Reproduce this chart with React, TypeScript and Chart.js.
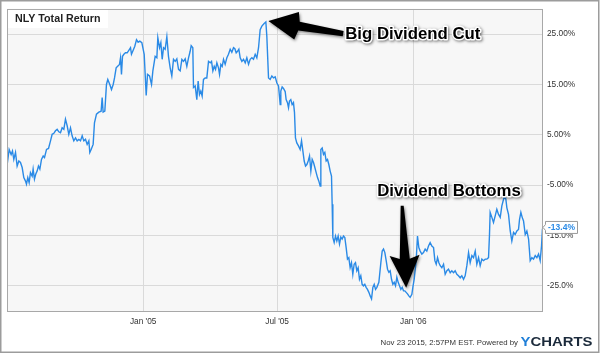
import { useEffect, useRef } from 'react';
import { Chart, registerables } from 'chart.js';

Chart.register(...registerables);

// Days since 1 Jan 2005 (x) and NLY total return in percent (y)
const DAY_OFFSETS: number[] = [
  -184, -181.1, -178.4, -176.6, -174.8, -172.5, -170.3, -168, -165.8, -163.5, -161.3, -159, -157.7, -155.9, -154.1,
  -152.3, -150, -148.7, -146.9, -145.1, -143.3, -141.5, -139.6, -137.4, -135.1, -133.3, -130.6, -127.9, -125.2, -123,
  -120.7, -118.5, -116.2, -114, -111.7, -109.5, -107.2, -105, -102.7, -100.5, -98.2, -96, -93.7, -91.4, -89.2, -86.9,
  -84.7, -82.4, -80.2, -77.9, -75.7, -73.4, -72.1, -70.3, -67.6, -65.8, -63.1, -59.9, -56.8, -55.4, -54.1, -51.8,
  -49.6, -47.8, -45.1, -42.8, -40.5, -38.7, -36.5, -33.8, -32, -30.6, -29.3, -27.9, -26.1, -23.9, -21.6, -19.4,
  -17.1, -15.8, -13.5, -11.3, -9, -6.8, -4.5,
  -1.8, 1.4, 4.1, 5.9, 8.6, 11.3, 13.1, 16.2, 18.5, 19.8, 22.1, 23.9, 25.7, 27.5, 29.7, 32, 34.2, 36.5, 38.7, 41,
  43.3, 45.5, 47.8, 50, 52.3, 54.5, 56.8, 59, 61.3, 63.5, 64.9, 67.1, 68, 70.3, 72.5, 74.3, 76.1, 77.9, 79.7, 81.5,
  83.8, 86, 88.3, 90.6, 92.4, 94.2, 96, 97.8, 99.6, 101.8, 103.2, 105, 106.8, 108.6, 110.8, 113.1, 115.3, 117.6,
  119.8, 122.1, 123.9, 125.7, 127.5, 129.3, 131.1, 133.4, 135.6, 137.9, 140.1, 142.4, 144.6, 146.9, 149.1, 151.4,
  153.6, 155.9, 158.1, 160.4, 163.5, 165.8, 167.1, 169.4, 171.6, 173.9, 176.2, 178.4, 180.7, 182.9, 185.2,
  186, 187.8, 189.6, 191.9, 193.2, 195, 196.4, 197.7, 199.5, 201.3, 203.1, 204.5, 205.8, 207.6, 209.9, 212.1, 214,
  215.8, 217.6, 219.4, 221.2, 223, 224.8, 226.6, 228.4, 230.2, 232, 233.8, 235.6, 237.4, 239.2, 240.1, 241.9, 243.7,
  245.5, 247.3, 249.1, 250.9, 252.7, 254.5, 255.4, 256.3, 258.1, 259.9, 261.7, 263.5, 265.3, 267.1, 268.9, 270.7,
  272.5, 274.3, 276.1, 277.9, 279.7, 281.5, 283.3, 285.1, 286.9, 288.7, 290.5, 292.3, 294.1, 295.9, 297.7, 299.5,
  301.3, 303.1, 305, 306.8, 308.6, 310.4, 312.2, 314, 315.8, 318.5, 321.2, 323, 324.8, 326.6, 328.4, 330.2, 332,
  333.8, 335.6, 337.4, 339.2, 341, 342.8, 344.6, 346.4, 348.2, 350, 351.8, 353.6, 355.4, 357.2, 359, 360.8,
  363.1, 364.4, 366.2, 368.9, 370.7, 372.5, 374.3, 376.6, 378.8, 381.1, 383.3, 385.6, 387.8, 390.1, 392.4, 394.2,
  396, 397.8, 399.6, 401.4, 403.6, 405.9, 408.1, 410.4, 412.6, 414.9, 417.1, 419.4, 421.6, 423.9, 426.1, 428.4,
  430.6, 432.9, 435.1, 437.4, 439.7, 441.9, 444.2, 446.4, 448.7, 450.9, 453.2, 455.4, 457.7, 459.9, 462.2, 464.4,
  466.7, 468, 468.9, 471.2, 473.4, 475.7, 477.9, 480.2, 482.5, 484.7, 487, 488.3, 490.1, 491.5, 493.7, 496, 498.2,
  500.5, 502.7, 505, 507.2, 508.6, 510.4, 512.2, 514, 516.3, 518.5, 520.8, 523, 525.3, 527.5, 529.8, 532, 534.3,
  536.5, 538.3, 539.5, 540.3,
];

const TOTAL_RETURN_PCT: number[] = [
  -1.2, 2.1, 1.1, 1.8, 0.1, 1.5, -1.2, -0.2, -0.5, -1.5, -3.5, -4.2, -4.8, -3.5, -4.5,
  -2.5, -3.2, -1.8, -3.8, -2.8, -2.2, -1.2, -1.8, 0.1, 0.8, 0.5, 2.1, 2.3, 3.8, 5.1,
  5.3, 5.8, 6.1, 5.6, 5.4, 6.4, 6.1, 8.1, 6.8, 5.1, 6.4, 4.8, 3.8, 4.4, 3.8, 4.1,
  3.8, 4.8, 3.8, 4.1, 3.1, 3.8, 1.5, 2.1, 3.1, 7.4, 9.1, 9.5, 9.7, 12.4, 9.5, 9.7,
  15.0, 16.0, 15.0, 14.0, 15.0, 16.3, 18.3, 18.7, 19.0, 20.3, 17.0, 20.6, 21.0, 21.3, 21.3, 21.8,
  22.3, 21.0, 21.8, 22.6, 23.9, 23.4, 23.6,
  23.3, 21.0, 12.8, 17.0, 16.7, 15.0, 17.7, 20.6, 20.3, 24.3, 22.3, 23.3, 20.0, 22.3, 22.0, 24.5, 20.6, 18.3, 16.7, 20.0,
  19.6, 20.1, 18.0, 17.7, 20.0, 19.6, 20.1, 18.6, 20.3, 21.6, 22.7, 22.3, 14.4, 14.7, 12.0, 15.7, 13.0, 13.7, 12.7, 16.0,
  16.3, 16.3, 19.6, 19.3, 19.6, 17.7, 18.6, 18.0, 19.3, 18.3, 17.0, 19.0, 18.6, 20.0, 19.0, 20.3, 21.0, 22.0,
  21.4, 22.3, 22.1, 21.3, 21.6, 22.0, 20.3, 19.6, 20.0, 19.3, 20.3, 19.0, 20.0, 20.3, 20.0, 21.0,
  20.3, 22.3, 25.9, 26.6, 27.1, 27.4, 24.6, 16.3, 16.0, 16.7, 16.3, 16.5, 15.3, 14.7, 11.0,
  13.7, 14.5, 14.2, 13.6, 12.0, 11.4, 10.4, 11.7, 12.0, 11.0, 11.4, 9.4, 4.4, 3.4, 2.8, 2.1, 3.8,
  1.8, -0.2, -1.2, -0.9, -0.2, 0.8, -2.2, 0.1, -0.5, -1.5, -2.5, -3.5, -4.2, -5.2, 2.1, 2.4, 1.1,
  1.5, -0.2, 0.1, -0.9, -2.2, -3.2, -8.8, -15.4, -16.4, -15.1, -16.1, -15.1, -16.7, -15.3, -15.7, -15.1,
  -15.4, -17.4, -19.7, -19.4, -21.4, -20.4, -22.7, -20.7, -20.4, -22.0, -21.4, -23.7, -23.0, -24.7, -25.0, -24.7,
  -25.3, -25.7, -26.3, -27.0, -27.6, -25.3, -24.7, -25.7, -25.3, -24.3, -20.4, -18.1, -17.7, -18.4, -20.0, -21.7, -22.3,
  -22.0, -23.7, -24.7, -24.3, -25.0, -23.3, -24.3, -25.0, -25.7, -25.3, -26.0, -26.0, -26.3, -26.6, -27.0, -27.3,
  -26.7, -25.3, -23.7, -20.0, -15.1, -17.4, -18.1, -18.7, -18.4, -17.7, -18.1, -17.1, -16.4, -17.1, -17.4, -20.0,
  -20.7, -19.4, -20.4, -21.0, -21.4, -20.7, -22.7, -22.0, -21.7, -22.4, -22.0, -22.4, -22.0, -22.7, -23.0, -23.4,
  -23.0, -23.7, -23.0, -21.0, -18.4, -20.4, -19.0, -19.4, -18.1, -20.7, -19.4, -21.0, -19.7, -20.0, -19.7, -19.7,
  -19.4, -14.8, -10.4, -11.4, -12.4, -11.1, -9.8, -10.8, -11.4, -9.1, -7.8, -7.1, -7.8, -9.5, -10.8, -14.1, -16.1,
  -14.4, -14.8, -14.1, -13.8, -11.8, -10.4, -11.4, -12.1, -14.8, -14.1, -15.7, -20.0, -19.4, -19.7, -19.0, -19.4, -18.7,
  -20.0, -17.1, -13.8, -13.4,
];

const X_MIN = -184;
const X_MAX = 540.3;
const X_TICK_DAYS = [0, 181, 365];
const X_TICK_LABELS = ["Jan '05", "Jul '05", "Jan '06"];

const Y_MIN = -30;
const Y_MAX = 30;
const Y_TICKS = [25, 15, 5, -5, -15, -25];
const Y_TICK_LABELS = ['25.00%', '15.00%', '5.00%', '-5.00%', '-15.0%', '-25.0%'];

const TITLE = 'NLY Total Return';
const FOOTER = 'Nov 23 2015, 2:57PM EST. Powered by';

// annotation anchors in data units (day, percent)
const ANNOTATIONS = [
  { text: 'Big Dividend Cut', textAt: [273, 25.0], tip: [169.3, 27.6], tail: [270.3, 25.1], head: [28.5, 14, 31, 4.4, 2.6] },
  { text: 'Dividend Bottoms', textAt: [316.2, -6.2], tip: [355.4, -25.4], tail: [350, -9.1], head: [32.5, 15, 29, 5, 1.5] },
];

const LINE_COLOR = '#2a8ae6';
const GRID_COLOR = '#dadada';
const FONT = '"Liberation Sans", Arial, Helvetica, sans-serif';

function drawArrow(ctx: CanvasRenderingContext2D, tip: number[], tail: number[], h: number[]) {
  const [headLen, headHalf, notch, shaftHead, shaftTail] = h;
  const dx = tail[0] - tip[0];
  const dy = tail[1] - tip[1];
  const L = Math.hypot(dx, dy);
  const ux = dx / L, uy = dy / L;
  const nx = -uy, ny = ux;
  const P = (a: number, p: number): [number, number] => [tip[0] + ux * a + nx * p, tip[1] + uy * a + ny * p];
  const pts = [P(0, 0), P(headLen, headHalf), P(notch, shaftHead), P(L, shaftTail), P(L, -shaftTail), P(notch, -shaftHead), P(headLen, -headHalf)];
  ctx.save();
  ctx.shadowColor = 'rgba(0,0,0,0.45)';
  ctx.shadowBlur = 3;
  ctx.shadowOffsetX = 1;
  ctx.shadowOffsetY = 1.5;
  ctx.beginPath();
  pts.forEach((p, i) => (i === 0 ? ctx.moveTo(p[0], p[1]) : ctx.lineTo(p[0], p[1])));
  ctx.closePath();
  ctx.fillStyle = '#000';
  ctx.fill();
  ctx.restore();
}

const decorPlugin = {
  id: 'decor',
  beforeDraw(chart: any) {
    const { ctx, chartArea: a } = chart;
    ctx.save();
    ctx.fillStyle = '#ffffff';
    ctx.fillRect(0, 0, chart.width, chart.height);
    ctx.fillStyle = '#f7f7f7';
    ctx.fillRect(a.left, a.top, a.right - a.left, a.bottom - a.top);
    ctx.restore();
  },
  afterDraw(chart: any) {
    const { ctx, chartArea: a } = chart;
    const xs = chart.scales.x;
    const ys = chart.scales.y;
    ctx.save();

    // plot border
    ctx.strokeStyle = '#a8a8a8';
    ctx.lineWidth = 1;
    ctx.strokeRect(a.left + 0.5, a.top + 0.5, a.right - a.left - 1, a.bottom - a.top);

    // title box
    ctx.fillStyle = '#ffffff';
    ctx.fillRect(a.left + 1, a.top + 1, 100, 18);
    ctx.fillStyle = '#222';
    ctx.font = `bold 10.7px ${FONT}`;
    ctx.textAlign = 'left';
    ctx.textBaseline = 'middle';
    ctx.fillText(TITLE, a.left + 8, a.top + 10);

    // annotations
    for (const an of ANNOTATIONS) {
      const tip = [xs.getPixelForValue(an.tip[0]), ys.getPixelForValue(an.tip[1])];
      const tail = [xs.getPixelForValue(an.tail[0]), ys.getPixelForValue(an.tail[1])];
      drawArrow(ctx, tip, tail, an.head);
      const tx = xs.getPixelForValue(an.textAt[0]);
      const ty = ys.getPixelForValue(an.textAt[1]);
      ctx.save();
      ctx.font = `bold 16.8px ${FONT}`;
      ctx.textAlign = 'left';
      ctx.textBaseline = 'middle';
      ctx.lineJoin = 'round';
      ctx.shadowColor = 'rgba(0,0,0,0.55)';
      ctx.shadowBlur = 3;
      ctx.shadowOffsetX = 1;
      ctx.shadowOffsetY = 1.5;
      ctx.strokeStyle = '#ffffff';
      ctx.lineWidth = 3;
      ctx.strokeText(an.text, tx, ty);
      ctx.shadowColor = 'transparent';
      ctx.fillStyle = '#000';
      ctx.fillText(an.text, tx, ty);
      ctx.restore();
    }

    // last value flag
    const lastV = TOTAL_RETURN_PCT[TOTAL_RETURN_PCT.length - 1];
    const yc = ys.getPixelForValue(lastV);
    const bx = a.right + 2.5;
    const bw = 32;
    const bh = 12;
    ctx.beginPath();
    ctx.moveTo(a.right, yc);
    ctx.lineTo(bx, yc - 3);
    ctx.lineTo(bx, yc - bh / 2);
    ctx.lineTo(bx + bw, yc - bh / 2);
    ctx.lineTo(bx + bw, yc + bh / 2);
    ctx.lineTo(bx, yc + bh / 2);
    ctx.lineTo(bx, yc + 3);
    ctx.closePath();
    ctx.fillStyle = '#ffffff';
    ctx.fill();
    ctx.strokeStyle = '#9a9a9a';
    ctx.lineWidth = 1;
    ctx.stroke();
    ctx.fillStyle = LINE_COLOR;
    ctx.font = `bold 8.5px ${FONT}`;
    ctx.textAlign = 'center';
    ctx.textBaseline = 'middle';
    ctx.fillText(`${lastV.toFixed(1)}%`, bx + bw / 2, yc + 0.5);

    // footer
    ctx.font = `7.8px ${FONT}`;
    ctx.fillStyle = '#333';
    ctx.textAlign = 'right';
    ctx.textBaseline = 'alphabetic';
    ctx.fillText(FOOTER, 518, 345);

    ctx.font = `bold 13.5px ${FONT}`;
    ctx.textAlign = 'left';
    const wY = ctx.measureText('Y').width;
    const wAll = ctx.measureText('YCHARTS').width;
    const sx = 72 / wAll;
    ctx.save();
    ctx.translate(520.5, 346);
    ctx.scale(sx, 1);
    ctx.fillStyle = '#1f7fd8';
    ctx.fillText('Y', 0, 0);
    ctx.fillStyle = '#1b2a3b';
    ctx.fillText('CHARTS', wY, 0);
    ctx.restore();

    // outer frame
    ctx.strokeStyle = '#9c9c9c';
    ctx.lineWidth = 1.5;
    ctx.strokeRect(0.75, 0.75, chart.width - 2, chart.height - 1.5);

    ctx.restore();
  },
};

export default function App() {
  const canvasRef = useRef<HTMLCanvasElement | null>(null);

  useEffect(() => {
    const canvas = canvasRef.current;
    if (!canvas) return;
    const n = Math.min(DAY_OFFSETS.length, TOTAL_RETURN_PCT.length);
    const points = [];
    for (let i = 0; i < n; i++) points.push({ x: DAY_OFFSETS[i], y: TOTAL_RETURN_PCT[i] });

    const chart = new Chart(canvas, {
      type: 'line',
      data: {
        datasets: [
          {
            label: TITLE,
            data: points,
            borderColor: LINE_COLOR,
            borderWidth: 1.4,
            pointRadius: 0,
            fill: false,
            tension: 0,
          },
        ],
      },
      options: {
        responsive: false,
        animation: false,
        layout: { padding: { left: 7, top: 7, right: 0, bottom: 0 } },
        plugins: { legend: { display: false }, tooltip: { enabled: false }, title: { display: false } },
        scales: {
          x: {
            type: 'linear',
            min: X_MIN,
            max: X_MAX,
            afterBuildTicks: (s: any) => {
              s.ticks = X_TICK_DAYS.map((value) => ({ value }));
            },
            afterFit: (s: any) => {
              s.height = 42;
            },
            grid: { color: GRID_COLOR, drawTicks: false, lineWidth: 1 },
            border: { display: false },
            ticks: {
              autoSkip: false,
              maxRotation: 0,
              padding: 6,
              color: '#333',
              font: { family: FONT, size: 8.3 },
              callback: (v: any) => {
                const i = X_TICK_DAYS.indexOf(Number(v));
                return i >= 0 ? X_TICK_LABELS[i] : '';
              },
            },
          },
          y: {
            type: 'linear',
            position: 'right',
            min: Y_MIN,
            max: Y_MAX,
            afterBuildTicks: (s: any) => {
              s.ticks = Y_TICKS.map((value) => ({ value }));
            },
            afterFit: (s: any) => {
              s.width = 57;
            },
            grid: { color: GRID_COLOR, drawTicks: false, lineWidth: 1 },
            border: { display: false },
            ticks: {
              padding: 4,
              color: '#333',
              font: { family: FONT, size: 8.3 },
              callback: (v: any) => {
                const i = Y_TICKS.indexOf(Number(v));
                return i >= 0 ? Y_TICK_LABELS[i] : '';
              },
            },
          },
        },
      },
      plugins: [decorPlugin],
    } as any);

    return () => chart.destroy();
  }, []);

  return (
    <div style={{ position: 'absolute', left: 0, top: 0, width: 600, height: 353, background: '#fff' }}>
      <canvas ref={canvasRef} width={600} height={353} style={{ display: 'block', width: 600, height: 353 }} />
    </div>
  );
}
